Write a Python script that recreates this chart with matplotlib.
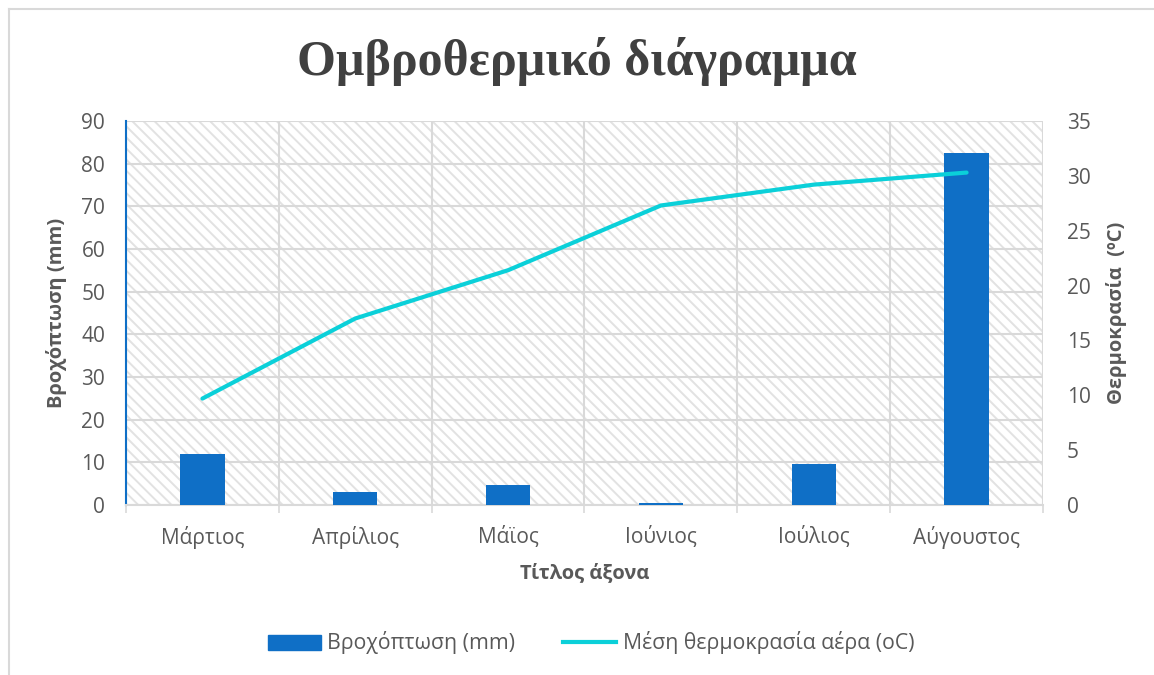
import matplotlib.pyplot as plt
import matplotlib.patches as mpatches
from matplotlib.lines import Line2D
import numpy as np

months = ["Μάρτιος", "Απρίλιος", "Μάϊος", "Ιούνιος", "Ιούλιος", "Αύγουστος"]
rain_mm = [12.0, 3.0, 4.7, 0.5, 9.6, 82.5]
temp_c = [9.7, 17.0, 21.4, 27.3, 29.2, 30.3]

bar_color = "#0F6FC6"
line_color = "#0BD0D9"
text_grey = "#595959"
grid_grey = "#D9D9D9"

plt.rcParams['font.family'] = ['Open Sans', 'DejaVu Sans']
plt.rcParams['hatch.linewidth'] = 1.4

fig = plt.figure(figsize=(11.54, 6.75), dpi=100)
ax = fig.add_axes([126 / 1154, 1 - 505 / 675, 917 / 1154, 384 / 675])
ax2 = ax.twinx()

x = np.arange(len(months))

# striped plot area background
ax.patch.set_facecolor("white")
bg = mpatches.Rectangle((0, 0), 1, 1, transform=ax.transAxes, facecolor="white",
                        edgecolor="#E2E2E2", hatch="\\\\\\", linewidth=0, zorder=0)
ax.add_patch(bg)

ax.bar(x, rain_mm, width=0.29, color=bar_color, zorder=3, label="Βροχόπτωση (mm)")
ax2.plot(x, temp_c, color=line_color, linewidth=3, solid_capstyle="round", zorder=4,
         label="Μέση θερμοκρασία αέρα (oC)")

ax.set_xlim(-0.5, len(months) - 0.5)
ax.set_ylim(0, 90)
ax.set_yticks(np.arange(0, 91, 10))
ax2.set_ylim(0, 35)
ax2.set_yticks(np.arange(0, 36, 5))

ax.set_xticks(x)
ax.set_xticklabels(months)
ax.set_xticks(np.arange(-0.5, len(months), 1), minor=True)
ax.tick_params(axis="x", which="major", length=0, pad=15, labelsize=15, labelcolor=text_grey)
ax.tick_params(axis="x", which="minor", length=6, width=1.2, color=grid_grey)
ax.tick_params(axis="y", length=0, pad=15, labelsize=15, labelcolor=text_grey)
ax2.tick_params(axis="y", length=0, pad=17, labelsize=15, labelcolor=text_grey)

ax.grid(True, which="major", axis="y", color=grid_grey, linewidth=1.5, zorder=1)
ax.grid(True, which="minor", axis="x", color=grid_grey, linewidth=1.5, zorder=1)
ax.set_axisbelow(True)

for a in (ax, ax2):
    for s in a.spines.values():
        s.set_visible(False)
ax.spines["left"].set_visible(True)
ax.spines["left"].set_color(bar_color)
ax.spines["left"].set_linewidth(1.5)
ax.spines["bottom"].set_visible(True)
ax.spines["bottom"].set_color(grid_grey)
ax.spines["bottom"].set_linewidth(1.5)

ax.set_ylabel("Βροχόπτωση (mm)", fontsize=14.5, fontweight="bold", color=text_grey, labelpad=10)
ax2.set_ylabel("Θερμοκρασία  (ºC)", fontsize=14.5, fontweight="bold", color=text_grey, labelpad=11)
ax.set_xlabel("Τίτλος άξονα", fontsize=14.5, fontweight="bold", color=text_grey, labelpad=10)

fig.text(0.5, 1 - 62 / 675, "Ομβροθερμικό διάγραμμα", ha="center", va="center",
         fontsize=36, fontweight="bold", color="#404040",
         family=["Liberation Serif", "DejaVu Serif"])

handles = [mpatches.Patch(color=bar_color, label="Βροχόπτωση (mm)"),
           Line2D([0], [0], color=line_color, linewidth=3, label="Μέση θερμοκρασία αέρα (oC)")]
fig.legend(handles=handles, loc="center", bbox_to_anchor=(591 / 1154, 1 - 643 / 675), ncol=2,
           frameon=False, fontsize=15.3, labelcolor=text_grey, handlelength=2.5,
           columnspacing=2.25, handletextpad=0.3)

# chart area border
fig.add_artist(Line2D([8.5 / 1154, 8.5 / 1154], [0, 1 - 8.5 / 675], transform=fig.transFigure,
                      color="#D9D9D9", linewidth=1.5))
fig.add_artist(Line2D([8.5 / 1154, 1], [1 - 8.5 / 675, 1 - 8.5 / 675], transform=fig.transFigure,
                      color="#D9D9D9", linewidth=1.5))

fig.savefig("out.png", dpi=100)
